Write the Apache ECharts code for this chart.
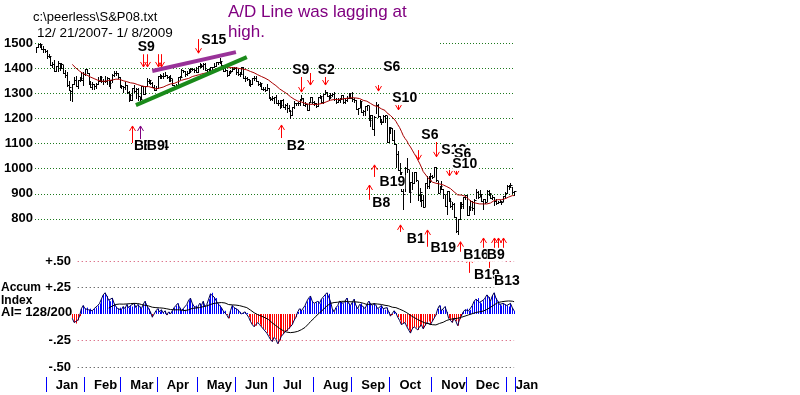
<!DOCTYPE html>
<html><head><meta charset="utf-8">
<script src="https://cdn.jsdelivr.net/npm/echarts@6/dist/echarts.min.js"></script>
<style>html,body{margin:0;padding:0;background:#fff}#c{width:800px;height:395px}</style>
</head><body><div id="c"></div>
<script>
// ---- trading days (categories) ----
const tradingMonths = [
  ['Dec', 12, 2007, [21,24,26,27,28,31]],
  ['Jan', 1, 2008, [2,3,4,7,8,9,10,11,14,15,16,17,18,22,23,24,25,28,29,30,31]],
  ['Feb', 2, 2008, [1,4,5,6,7,8,11,12,13,14,15,19,20,21,22,25,26,27,28,29]],
  ['Mar', 3, 2008, [3,4,5,6,7,10,11,12,13,14,17,18,19,20,24,25,26,27,28,31]],
  ['Apr', 4, 2008, [1,2,3,4,7,8,9,10,11,14,15,16,17,18,21,22,23,24,25,28,29,30]],
  ['May', 5, 2008, [1,2,5,6,7,8,9,12,13,14,15,16,19,20,21,22,23,27,28,29,30]],
  ['Jun', 6, 2008, [2,3,4,5,6,9,10,11,12,13,16,17,18,19,20,23,24,25,26,27,30]],
  ['Jul', 7, 2008, [1,2,3,7,8,9,10,11,14,15,16,17,18,21,22,23,24,25,28,29,30,31]],
  ['Aug', 8, 2008, [1,4,5,6,7,8,11,12,13,14,15,18,19,20,21,22,25,26,27,28,29]],
  ['Sep', 9, 2008, [2,3,4,5,8,9,10,11,12,15,16,17,18,19,22,23,24,25,26,29,30]],
  ['Oct', 10, 2008, [1,2,3,6,7,8,9,10,13,14,15,16,17,20,21,22,23,24,27,28,29,30,31]],
  ['Nov', 11, 2008, [3,4,5,6,7,10,11,12,13,14,17,18,19,20,21,24,25,26,28]],
  ['Dec', 12, 2008, [1,2,3,4,5,8,9,10,11,12,15,16,17,18,19,22,23,24,26,29,30,31]],
  ['Jan', 1, 2009, [2,5,6,7,8]]
];

// ---- S&P 500 daily values ----
const closes = [
 1484,1497,1497,1476,1478,1468,
 1447,1447,1411,1416,1390,1409,1420,1401,1416,1380,1373,1333,1325,1310,1338,1352,1331,1353,1362,1355,1378,
 1395,1380,1336,1326,1336,1331,1339,1348,1367,1348,1350,1348,1360,1343,1353,1372,1381,1380,1367,1331,
 1331,1327,1333,1304,1294,1273,1320,1308,1316,1288,1277,1330,1299,1330,1349,1352,1342,1325,1315,1323,
 1370,1368,1370,1370,1373,1365,1355,1361,1333,1329,1335,1365,1366,1391,1389,1376,1380,1388,1398,1397,1391,1386,
 1410,1414,1407,1418,1392,1397,1389,1404,1403,1408,1423,1425,1427,1413,1390,1394,1375,1385,1390,1398,1400,
 1386,1378,1377,1405,1361,1361,1358,1336,1339,1360,1360,1350,1337,1342,1318,1318,1315,1322,1283,1278,1280,
 1284,1261,1262,1253,1273,1245,1254,1240,1229,1214,1245,1260,1261,1261,1278,1283,1253,1257,1235,1264,1284,1267,
 1260,1249,1285,1290,1267,1297,1306,1290,1286,1293,1299,1278,1266,1275,1278,1292,1267,1272,1281,1301,1283,
 1278,1275,1237,1243,1268,1225,1230,1250,1252,1193,1214,1157,1207,1255,1208,1189,1186,1209,1213,1106,1166,
 1161,1115,1099,1057,996,985,910,899,1003,998,908,946,941,986,956,897,909,877,848,941,930,954,969,
 966,1006,953,905,931,920,899,853,912,873,851,860,807,752,800,852,858,888,896,
 816,848,870,845,876,909,888,899,873,879,869,913,904,885,888,871,863,869,873,869,890,903,
 932,927,935,907,910
];
const highs = [
 1485,1498,1499,1493,1488,1475,
 1471,1456,1444,1424,1431,1410,1428,1419,1420,1414,1391,1383,1350,1313,1339,1367,1368,1353,1365,1385,1385,
 1396,1395,1380,1351,1347,1336,1341,1367,1369,1368,1356,1368,1367,1363,1354,1376,1388,1388,1381,1367,
 1335,1331,1345,1333,1310,1296,1320,1333,1322,1321,1287,1330,1331,1330,1360,1356,1353,1345,1334,1328,
 1370,1378,1375,1381,1386,1372,1368,1372,1359,1335,1339,1365,1369,1395,1391,1389,1387,1397,1399,1402,1397,1404,
 1410,1422,1415,1422,1419,1398,1396,1404,1405,1420,1424,1426,1440,1426,1413,1401,1394,1387,1392,1406,1404,
 1404,1396,1386,1405,1404,1370,1366,1358,1353,1361,1370,1370,1350,1347,1342,1325,1326,1336,1322,1286,1291,
 1285,1292,1272,1275,1274,1277,1257,1262,1254,1234,1246,1270,1263,1266,1278,1292,1283,1264,1257,1264,1285,1285,
 1271,1263,1285,1292,1290,1297,1313,1305,1294,1300,1301,1304,1280,1283,1283,1294,1293,1276,1289,1302,1301,
 1304,1280,1274,1243,1274,1268,1233,1250,1255,1250,1214,1213,1211,1265,1256,1211,1198,1215,1215,1210,1167,
 1167,1161,1153,1097,1072,1021,988,936,1006,1044,995,948,985,986,985,952,923,899,896,941,970,970,984,
 976,1007,1005,952,931,951,918,896,912,912,882,866,864,807,801,868,868,888,897,
 896,850,875,871,879,918,910,916,897,881,880,914,914,905,895,888,880,870,874,873,891,906,
 934,936,943,927,911
];
const lows = [
 1463,1484,1483,1475,1465,1465,
 1442,1443,1411,1404,1389,1388,1389,1394,1402,1379,1364,1330,1313,1274,1271,1338,1330,1322,1350,1355,1334,
 1375,1379,1336,1324,1317,1318,1321,1339,1348,1347,1338,1345,1339,1331,1322,1344,1369,1375,1362,1325,
 1320,1307,1318,1303,1270,1272,1275,1307,1283,1274,1257,1283,1299,1299,1330,1341,1337,1325,1312,1312,
 1320,1361,1360,1362,1370,1360,1349,1349,1332,1324,1321,1336,1358,1366,1383,1370,1374,1379,1385,1394,1386,1384,
 1385,1406,1404,1397,1392,1390,1380,1389,1396,1403,1407,1415,1419,1408,1387,1387,1370,1373,1382,1387,1395,
 1377,1373,1371,1376,1360,1351,1353,1335,1331,1339,1355,1350,1335,1330,1318,1313,1308,1314,1283,1273,1273,
 1260,1261,1254,1240,1245,1244,1236,1225,1228,1200,1215,1243,1254,1255,1254,1275,1253,1251,1234,1235,1264,1263,
 1252,1247,1249,1282,1266,1262,1296,1288,1275,1283,1291,1275,1262,1265,1264,1277,1263,1263,1270,1281,1282,
 1271,1265,1236,1217,1244,1225,1214,1212,1233,1193,1169,1156,1133,1221,1207,1187,1179,1187,1187,1106,1107,
 1141,1114,1098,1007,996,970,910,840,912,985,908,866,919,941,952,875,872,853,846,852,923,925,945,
 962,971,949,904,907,918,884,850,819,872,847,840,806,747,741,801,844,843,878,
 816,817,836,834,818,883,884,892,871,838,865,871,897,884,880,857,860,863,866,858,870,889,
 902,919,927,903,896
];

// ---- Accumulation Index (starts at day 20) ----
const accumIndex = [
 null,null,null,null,null,null,null,null,null,null,null,null,null,null,null,null,null,null,null,null,
 -0.04,-0.08,-0.09,-0.06,-0.02,0.05,0.08,0.05,0.06,0.04,
 0.05,0.03,0.05,0.06,0.08,0.1,0.14,0.18,0.2,0.17,
 0.13,0.12,0.15,0.1,0.07,0.05,0.06,0.04,0.07,0.05,
 0.09,0.06,0.08,0.07,0.1,0.06,0.09,0.07,0.05,0.09,
 0.12,0.08,0.05,0.02,-0.03,0.0,0.03,0.05,0.02,0.04,
 0.01,0.03,-0.01,0.02,0.0,0.03,0.06,0.08,0.1,0.06,
 0.03,0.05,0.04,0.09,0.13,0.15,0.1,0.07,0.08,0.06,
 0.1,0.08,0.12,0.07,0.09,0.14,0.19,0.2,0.16,0.15,
 0.1,0.08,0.06,0.03,0.03,-0.01,-0.04,0.03,0.08,0.06,
 0.05,0.04,0.02,0.0,0.01,0.02,0.01,-0.03,-0.07,-0.1,
 -0.12,-0.11,-0.08,-0.1,-0.12,-0.14,-0.15,-0.18,-0.21,-0.24,
 -0.26,-0.22,-0.24,-0.28,-0.25,-0.21,-0.19,-0.17,-0.16,-0.14,
 -0.12,-0.1,-0.06,-0.03,0.02,0.05,0.03,0.04,0.08,0.12,
 0.15,0.17,0.12,0.1,0.11,0.12,0.1,0.14,0.15,0.18,
 0.2,0.19,0.12,0.05,0.02,0.06,0.08,0.12,0.11,0.1,
 0.12,0.15,0.1,0.08,0.11,0.14,0.08,0.05,0.09,0.1,
 0.07,0.05,0.09,0.12,0.1,0.08,0.1,0.08,0.05,0.06,
 0.08,0.05,0.04,0.06,0.02,-0.02,-0.01,0.03,0.01,-0.03,
 -0.06,-0.1,-0.09,-0.08,-0.12,-0.15,-0.18,-0.14,-0.12,-0.13,
 -0.15,-0.12,-0.1,-0.14,-0.11,-0.08,-0.07,-0.1,-0.07,-0.04,
 -0.01,0.05,0.08,0.03,0.04,0.07,0.02,-0.04,-0.06,-0.08,
 -0.04,-0.07,-0.11,-0.05,-0.02,0.02,0.04,0.05,0.03,0.04,
 0.08,0.12,0.14,0.15,0.11,0.1,0.13,0.15,0.18,0.16,
 0.12,0.17,0.2,0.15,0.12,0.09,0.08,0.1,0.09,0.08,
 0.07,0.1,0.06,0.03
];

// ---- axis tick labels ----
const priceTickLabels = [800, 900, 1000, 1100, 1200, 1300, 1400, 1500];
const aiTickLabels = { '0.5': '+.50', '0.25': '+.25', '-0.25': '-.25', '-0.5': '-.50' };

// ---- annotations (day index, price values) ----
const trendLines = [
  { name: 'A/D lagging', from: [64, 1389], to: [110, 1464] },
  { name: 'uptrend',     from: [55, 1253], to: [116, 1444] }
];
// [day, from value, to value]  (arrow head at "to")
const signalArrows = [
  [59,1456,1405],[61,1456,1405],[67,1456,1405],[69,1456,1405],[89,1516,1460],
  [53,1102,1170],[57,1102,1170],[135,1122,1174],
  [146,1365,1305],[151,1381,1333],[159,1381,1333],[188,1333,1309],[199,1265,1234],
  [210,1074,1035],[220,1114,1047],[227,995,971],[231,1035,975],
  [186,967,1015],[183,876,935],[200,748,776],[215,689,756],[233,669,709],
  [246,677,724],[252,677,724],[254,677,724],[257,677,724],[238,585,645],[249,597,649]
];
const purpleArrowDays = [57];
// [text, day, value]
const signalLabels = [
  ['S9',56,1484],['S15',91,1512],['B1',54,1090],['B14',59,1090],['B9',61,1090],
  ['S9',141,1393],['S2',155,1393],['S6',191,1405],['S10',196,1281],['S6',212,1134],['B2',138,1090],
  ['S12',223,1074],['S6',230,1059],['S10',229,1019],['B19',189,947],['B8',185,864],
  ['B1',204,720],['B19',217,685],['B16',235,657],['B9',248,657],['B19',241,577],['B13',252,553]
];

// ---- build categories ----
const categories = [];
const monthStartLabel = new Map();
tradingMonths.forEach(([name, m, y, days], mi) => {
  days.forEach((d, k) => {
    if (k === 0 && mi > 0) monthStartLabel.set(categories.length, name);
    categories.push(m + '/' + d + '/' + y);
  });
});

function movingAverage(arr, n) {
  return arr.map((_, i) => {
    if (i < n - 1) return null;
    let s = 0;
    for (let k = i - n + 1; k <= i; k++) { if (arr[k] == null) return null; s += arr[k]; }
    return +(s / n).toFixed(3);
  });
}
const priceMA = movingAverage(closes, 21);
const aiMA = movingAverage(accumIndex, 21);

const FONT = '"Liberation Sans", Arial, sans-serif';
const chart = echarts.init(document.getElementById('c'), null, { renderer: 'canvas' });

const option = {
  animation: false,
  backgroundColor: '#fff',
  textStyle: { fontFamily: FONT },
  grid: [
    { left: 35, right: 285, top: 18, height: 226 },
    { left: 35, right: 285, top: 261, height: 106 }
  ],
  xAxis: [
    { type: 'category', gridIndex: 0, data: categories, boundaryGap: true, show: false },
    { type: 'category', gridIndex: 1, data: categories, boundaryGap: true, offset: 10, position: 'bottom',
      axisLine: { show: false, onZero: false },
      axisTick: { show: true, length: 15, interval: (i) => monthStartLabel.has(i), lineStyle: { color: '#0000ff', width: 1 } },
      axisLabel: { interval: (i) => monthStartLabel.has(i), formatter: (v, i) => monthStartLabel.get(i) || '',
        align: 'left', padding: [0, 0, 0, 9], margin: 2, color: '#000', fontWeight: 'bold', fontSize: 13, fontFamily: FONT },
      splitLine: { show: false } }
  ],
  yAxis: [
    { type: 'value', gridIndex: 0, min: 700, max: 1600, interval: 100,
      axisLine: { show: false }, axisTick: { show: false },
      axisLabel: { formatter: (v) => priceTickLabels.includes(v) ? String(v) : '', margin: 2,
        color: '#000', fontWeight: 'bold', fontSize: 13, fontFamily: FONT },
      splitLine: { show: true, showMinLine: false, showMaxLine: false, lineStyle: { color: '#1e7a1e', type: [1, 2], width: 1 } } },
    { type: 'value', gridIndex: 1, min: -0.5, max: 0.5, interval: 0.25, offset: -38,
      axisLine: { show: false }, axisTick: { show: false }, splitLine: { show: false },
      axisLabel: { formatter: (v) => aiTickLabels[String(v)] || '', margin: 2,
        color: '#000', fontWeight: 'bold', fontSize: 13, fontFamily: FONT } }
  ],
  graphic: [
    { type: 'rect', left: 40, top: 0, shape: { width: 400, height: 46 }, style: { fill: '#fff' }, z: 1 },
    { type: 'text', left: 33, top: 11, z: 10, style: { text: 'c:\\peerless\\S&P08.txt', font: '13px ' + FONT, fill: '#000' } },
    { type: 'text', left: 37, top: 26, z: 10, style: { text: '12/ 21/2007- 1/ 8/2009', font: '13.5px ' + FONT, fill: '#000' } },
    { type: 'text', left: 228, top: 4, z: 10, style: { text: 'A/D Line was lagging at', font: '17px ' + FONT, fill: '#800080' } },
    { type: 'text', left: 228, top: 24, z: 10, style: { text: 'high.', font: '17px ' + FONT, fill: '#800080' } },
    { type: 'text', left: 1, top: 282, z: 10, style: { text: 'Accum', font: 'bold 12px ' + FONT, fill: '#000' } },
    { type: 'text', left: 1, top: 295, z: 10, style: { text: 'Index', font: 'bold 12px ' + FONT, fill: '#000' } },
    { type: 'text', left: 1, top: 306, z: 10, style: { text: 'AI= 128/200', font: 'bold 13px ' + FONT, fill: '#000' } }
  ],
  series: [
    { name: 'price', type: 'custom', xAxisIndex: 0, yAxisIndex: 0, clip: false,
      data: closes.map((c, i) => [i, lows[i], highs[i], c]),
      encode: { x: 0, y: [1, 2] },
      renderItem: (params, api) => {
        const i = api.value(0);
        const lo = api.coord([i, api.value(1)]);
        const hi = api.coord([i, api.value(2)]);
        const cl = api.coord([i, api.value(3)]);
        const x = Math.round(lo[0]) + 0.5;
        const yc = Math.round(cl[1]) + 0.5;
        return { type: 'group', children: [
          { type: 'line', shape: { x1: x, y1: Math.round(hi[1]), x2: x, y2: Math.round(lo[1]) + 1 }, style: { stroke: '#000', lineWidth: 1 } },
          { type: 'line', shape: { x1: x, y1: yc, x2: x + 2, y2: yc }, style: { stroke: '#000', lineWidth: 1 } }
        ] };
      } },
    { name: 'ma', type: 'line', xAxisIndex: 0, yAxisIndex: 0, data: priceMA, symbol: 'none',
      lineStyle: { color: '#a80000', width: 1 }, z: 3,
      markLine: { silent: true, symbol: ['none', 'none'], label: { show: false },
        data: [
          [ { coord: [categories[trendLines[0].from[0]], trendLines[0].from[1]], lineStyle: { color: '#993399', width: 4, type: 'solid' } },
            { coord: [categories[trendLines[0].to[0]], trendLines[0].to[1]] } ],
          [ { coord: [categories[trendLines[1].from[0]], trendLines[1].from[1]], lineStyle: { color: '#1a8a1a', width: 4, type: 'solid' } },
            { coord: [categories[trendLines[1].to[0]], trendLines[1].to[1]] } ]
        ] } },
    { name: 'arrows', type: 'custom', xAxisIndex: 0, yAxisIndex: 0, clip: false, z: 5,
      data: signalArrows.map(d => [d[0], d[1], d[2]]),
      renderItem: (params, api) => {
        const day = api.value(0);
        const a = api.coord([day, api.value(1)]);
        const b = api.coord([day, api.value(2)]);
        const x = Math.round(a[0]) + 0.5;
        const dir = b[1] > a[1] ? 1 : -1;
        const color = purpleArrowDays.includes(day) ? '#800080' : '#ff0000';
        return { type: 'group', children: [
          { type: 'line', shape: { x1: x, y1: a[1], x2: x, y2: b[1] }, style: { stroke: color, lineWidth: 1 } },
          { type: 'polyline', shape: { points: [[x - 3, b[1] - dir * 5], [x, b[1]], [x + 3, b[1] - dir * 5]] }, style: { stroke: color, fill: null, lineWidth: 1 } }
        ] };
      } },
    { name: 'labels', type: 'custom', xAxisIndex: 0, yAxisIndex: 0, clip: false, z: 6,
      data: signalLabels.map(d => [d[1], d[2]]),
      renderItem: (params, api) => {
        const p = api.coord([api.value(0), api.value(1)]);
        return { type: 'text', x: p[0], y: p[1], style: { text: signalLabels[params.dataIndex][0], fill: '#000',
          font: 'bold 14px ' + FONT, align: 'left', verticalAlign: 'middle', backgroundColor: '#fff' } };
      } },
    { name: 'aiBars', type: 'custom', xAxisIndex: 1, yAxisIndex: 1,
      data: accumIndex.map((v, i) => [i, v]).filter(d => d[1] != null),
      renderItem: (params, api) => {
        const v = api.value(1);
        const p0 = api.coord([api.value(0), 0]);
        const p1 = api.coord([api.value(0), v]);
        const x = Math.round(p0[0]) + 0.5;
        return { type: 'line', shape: { x1: x, y1: p0[1], x2: x, y2: p1[1] }, style: { stroke: v >= 0 ? '#0000ff' : '#ff0000', lineWidth: 1 } };
      } },
    { name: 'ai', type: 'line', xAxisIndex: 1, yAxisIndex: 1, data: accumIndex, symbol: 'none',
      lineStyle: { color: '#000050', width: 1 }, z: 3,
      markLine: { silent: true, symbol: ['none', 'none'], label: { show: false },
        data: [
          [ { coord: [categories[23], 0.5], lineStyle: { color: '#d04060', type: [1, 3], width: 1 } }, { coord: [categories[263], 0.5] } ],
          [ { coord: [categories[23], 0.25], lineStyle: { color: '#333', type: [1, 3], width: 1 } }, { coord: [categories[263], 0.25] } ],
          [ { coord: [categories[23], -0.25], lineStyle: { color: '#d04060', type: [1, 3], width: 1 } }, { coord: [categories[263], -0.25] } ],
          [ { coord: [categories[23], -0.5], lineStyle: { color: '#333', type: [1, 3], width: 1 } }, { coord: [categories[263], -0.5] } ]
        ] } },
    { name: 'aiMA', type: 'line', xAxisIndex: 1, yAxisIndex: 1, data: aiMA, symbol: 'none',
      lineStyle: { color: '#000', width: 1 }, z: 4 }
  ]
};
chart.setOption(option);
</script>
</body></html>
